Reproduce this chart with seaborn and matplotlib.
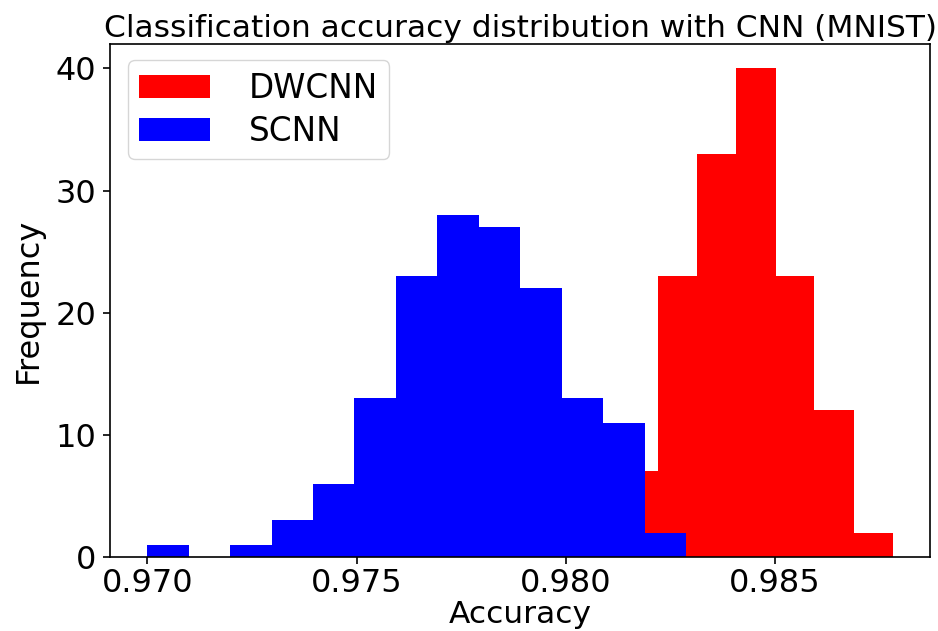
import numpy as np
import pandas as pd
import seaborn as sns
import matplotlib
matplotlib.use("Agg")
import matplotlib.pyplot as plt

# Data
dwcnn_edges = [0.98127, 0.98220, 0.98314, 0.98407, 0.98501, 0.98594, 0.98688, 0.98781]
dwcnn_counts = [7, 23, 33, 40, 23, 12, 2]
scnn_edges = [0.97000, 0.97099, 0.97198, 0.97297, 0.97396, 0.97495, 0.97594,
              0.97693, 0.97792, 0.97891, 0.97990, 0.98089, 0.98188, 0.98287]
scnn_counts = [1, 0, 1, 3, 6, 13, 23, 28, 27, 22, 13, 11, 2]
series_labels = ["DWCNN", "SCNN"]
series_colors = ["red", "blue"]
xtick_labels = ["0.970", "0.975", "0.980", "0.985"]
ytick_values = [0, 10, 20, 30, 40]

sns.set_style("ticks")
plt.rcParams['font.family'] = ['DejaVu Sans']
plt.rcParams['text.color'] = 'black'
plt.rcParams['axes.labelcolor'] = 'black'

fig = plt.figure(figsize=(9.38, 6.31), dpi=100)
ax = fig.add_axes([0.1173, 0.1173, 0.8742, 0.813])

for edges, counts, lab, col in [(dwcnn_edges, dwcnn_counts, series_labels[0], series_colors[0]),
                                (scnn_edges, scnn_counts, series_labels[1], series_colors[1])]:
    e = np.asarray(edges)
    centers = (e[:-1] + e[1:]) / 2
    df = pd.DataFrame({"x": centers, "w": counts})
    sns.histplot(data=df, x="x", weights="w", bins=list(edges), color=col, alpha=1,
                 linewidth=0, label=lab, ax=ax)

ax.set_xticks([float(t) for t in xtick_labels])
ax.set_xticklabels(xtick_labels)
ax.set_yticks(ytick_values)
ax.tick_params(labelsize=23, length=5, width=1.2, colors='black')
ax.tick_params(axis='x', pad=3)
ax.tick_params(axis='y', pad=5)
for s in ax.spines.values():
    s.set_color('black')
    s.set_linewidth(1.2)
ax.set_xlabel("Accuracy", fontsize=22.5, labelpad=1)
ax.set_ylabel("Frequency", fontsize=23, labelpad=8)
ax.set_title("Classification accuracy distribution with CNN (MNIST)", fontsize=22.5, pad=5)
ax.legend(fontsize=23.5, loc='upper left', handlelength=2.15, handleheight=0.7,
          borderpad=0.35, labelspacing=0.3, handletextpad=1.2,
          bbox_to_anchor=(0.002, 1.0))

fig.savefig("out.png", dpi=100)
